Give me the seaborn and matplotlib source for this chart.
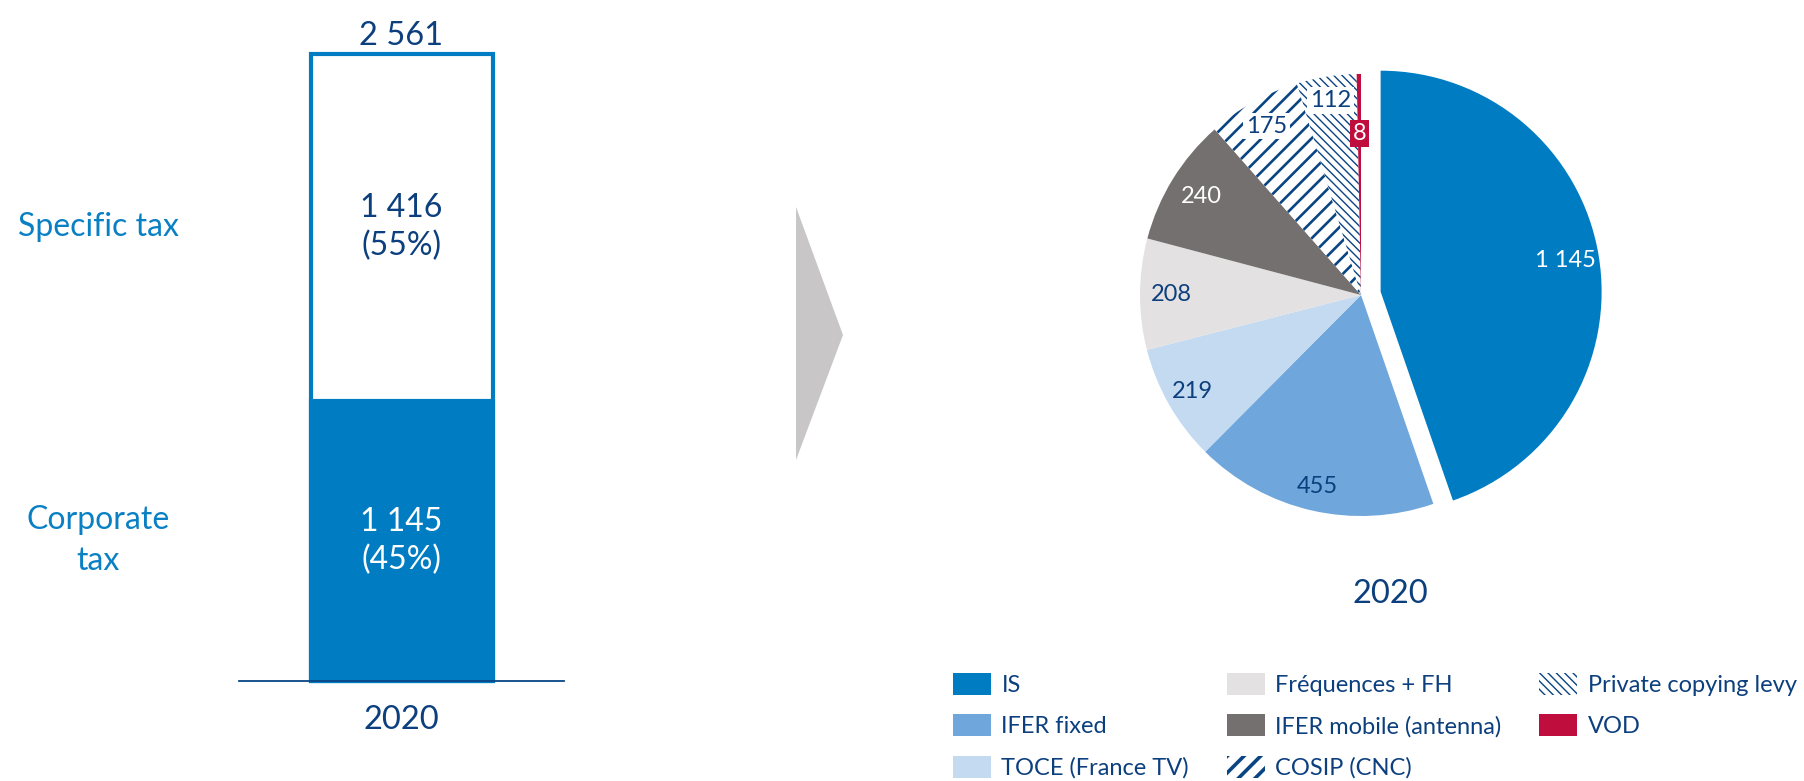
import numpy as np
import pandas as pd
import matplotlib
matplotlib.use('Agg')
import matplotlib.pyplot as plt
from matplotlib.patches import Patch, Polygon
import seaborn as sns

# ---------------- data ----------------
year = '2020'
bar_parts = ['Corporate\ntax', 'Specific tax']
bar_values = [1145, 1416]

pie_labels = ['IS', 'IFER fixed', 'TOCE (France TV)', 'Fréquences + FH',
              'IFER mobile (antenna)', 'COSIP (CNC)', 'Private copying levy', 'VOD']
pie_values = [1145, 455, 219, 208, 240, 175, 112, 8]

# ---------------- style ----------------
sns.set_theme(style='white')
plt.rcParams['font.family'] = ['Lato', 'DejaVu Sans']

NAVY = '#0C3F7D'
BLUE = '#007CC2'
LBLUE = '#0A80C4'
HATCH_NAVY = '#0A4583'
pie_colors = [BLUE, '#6FA6DB', '#C3DAF0', '#E3E1E2', '#74706F', 'white', 'white', '#BF0D3E']
pie_hatches = [None, None, None, None, None, '//', '\\\\\\\\', None]
hatch_lw = {5: 1.9, 6: 1.0}
text_colors = ['white', NAVY, NAVY, NAVY, 'white', NAVY, NAVY, 'white']
label_dist = [0.85, 0.89, 0.88, 0.86, 0.85, 0.875, 0.89, 0.73]
label_box = [None, None, None, None, None, 'white', 'white', '#BF0D3E']
explode = [0.09, 0, 0, 0, 0, 0, 0, 0]

W, H = 1804, 781
fig = plt.figure(figsize=(W / 100, H / 100), dpi=100)
fig.patch.set_facecolor('white')


def fx(px):
    return px / W


def fy(py):
    return 1 - py / H


def fmt(v):
    return f'{v:,}'.replace(',', ' ')


# ---------------- left: stacked bar ----------------
total = sum(bar_values)
ax_bar = fig.add_axes([fx(239), fy(681), fx(564 - 239), (681 - 54) / H])
df_bar = pd.DataFrame({'year': [year], 'total': [total], 'corporate': [bar_values[0]]})
sns.barplot(data=df_bar, x='year', y='total', color='white', saturation=1,
            edgecolor=BLUE, linewidth=3, width=0.56, ax=ax_bar)
sns.barplot(data=df_bar, x='year', y='corporate', color=BLUE, saturation=1,
            edgecolor=BLUE, linewidth=3, width=0.56, ax=ax_bar)
for p in ax_bar.patches:
    p.set_clip_on(False)
ax_bar.set_xlim(-0.5, 0.5)
ax_bar.set_ylim(0, total)
ax_bar.set_xlabel('')
ax_bar.set_ylabel('')
ax_bar.set_yticks([])
ax_bar.tick_params(axis='x', length=0, pad=17, labelsize=23.5, labelcolor=NAVY)
for s in ['top', 'left', 'right']:
    ax_bar.spines[s].set_visible(False)
ax_bar.spines['bottom'].set_color(HATCH_NAVY)
ax_bar.spines['bottom'].set_linewidth(1.3)

ax_bar.annotate(fmt(total), (0, total), xytext=(0, 2), textcoords='offset points',
                ha='center', va='bottom', fontsize=23.5, color=NAVY)
bottom = 0
for i, (name, v) in enumerate(zip(bar_parts, bar_values)):
    mid = bottom + v / 2
    ax_bar.text(0, mid, f'{fmt(v)}\n({v / total:.0%})', ha='center', va='center',
                fontsize=23, color='white' if i == 0 else NAVY, linespacing=1.3)
    # category label at the left, in figure x
    fig.text(fx(98), ax_bar.transData.transform((0, mid))[1] / H, name,
             ha='center', va='center', fontsize=23, color=LBLUE, linespacing=1.45)
    bottom += v

# ---------------- arrow ----------------
fig.patches.append(Polygon([[fx(796), fy(207)], [fx(843), fy(335)], [fx(796), fy(460)]],
                           closed=True, transform=fig.transFigure,
                           facecolor='#C8C6C7', edgecolor='none'))

# ---------------- right: pie ----------------
cx, cy, r = 1361, 295, 221
R = 1.25 * r
ax_pie = fig.add_axes([fx(cx - R), fy(cy + R), 2 * R / W, 2 * R / H])
wedges, _ = ax_pie.pie(pie_values, colors=pie_colors, startangle=90, counterclock=False,
                       explode=explode, radius=1, wedgeprops=dict(linewidth=0))
ax_pie.set_xlim(-1.25, 1.25)
ax_pie.set_ylim(-1.25, 1.25)
ax_pie.set_aspect('equal')
ax_pie.axis('off')

for i, w in enumerate(wedges):
    if pie_hatches[i]:
        w.set_hatch(pie_hatches[i])
        w.set_edgecolor(HATCH_NAVY)
        w.set_linewidth(0)
        if hasattr(w, 'set_hatch_linewidth'):
            w.set_hatch_linewidth(hatch_lw[i])
        if hasattr(w, 'set_hatchcolor'):
            w.set_hatchcolor(HATCH_NAVY)
    ang = np.deg2rad((w.theta1 + w.theta2) / 2)
    d = label_dist[i]
    x = w.center[0] + d * np.cos(ang)
    y = w.center[1] + d * np.sin(ang)
    bbox = None
    if label_box[i]:
        bbox = dict(boxstyle='square,pad=0.12', facecolor=label_box[i], edgecolor='none')
    ax_pie.text(x, y, fmt(pie_values[i]), ha='center', va='center', fontsize=17,
                color=text_colors[i], bbox=bbox)

fig.text(fx(1390), fy(594), year, ha='center', va='center', fontsize=23.5, color=NAVY)

# ---------------- legend ----------------
handles = []
for i, lab in enumerate(pie_labels):
    h = Patch(facecolor=pie_colors[i], edgecolor=HATCH_NAVY if pie_hatches[i] else 'none',
              hatch=pie_hatches[i], linewidth=0, label=lab)
    handles.append(h)
leg = fig.legend(handles=handles, ncol=3, loc='upper left',
                 bbox_to_anchor=(fx(953), fy(673)), bbox_transform=fig.transFigure,
                 frameon=False, fontsize=17, handlelength=1.6, handleheight=1.06,
                 handletextpad=0.45, labelspacing=0.77, columnspacing=1.6,
                 borderpad=0, borderaxespad=0)
for t in leg.get_texts():
    t.set_color(NAVY)
leg_handles = getattr(leg, 'legend_handles', None) or getattr(leg, 'legendHandles', [])
for i, h in enumerate(leg_handles):
    if pie_hatches[i]:
        if hasattr(h, 'set_hatch_linewidth'):
            h.set_hatch_linewidth(2.6 if i == 5 else 1.0)
        if hasattr(h, 'set_hatchcolor'):
            h.set_hatchcolor(HATCH_NAVY)

fig.savefig('out.png', dpi=100)
